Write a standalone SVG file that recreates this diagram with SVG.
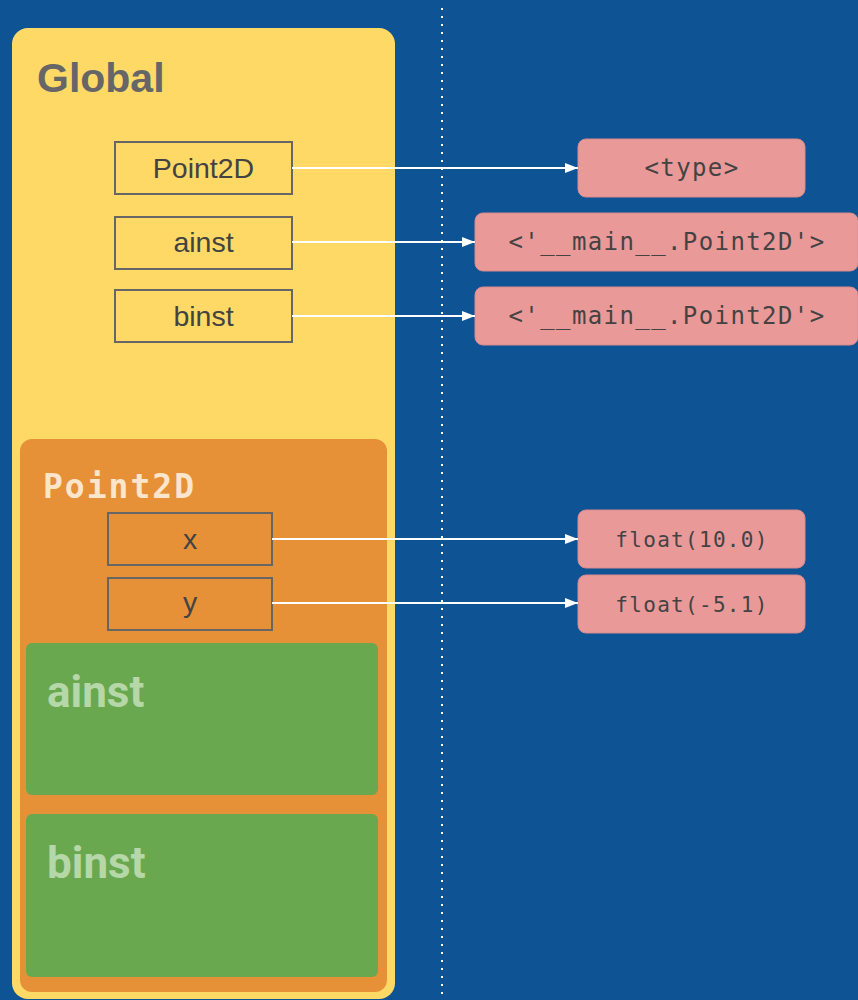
<svg xmlns="http://www.w3.org/2000/svg" width="858" height="1000" viewBox="0 0 858 1000">
<defs>
<marker id="arr" viewBox="0 0 13 10" refX="13" refY="5" markerWidth="13" markerHeight="10" markerUnits="userSpaceOnUse" orient="auto">
<path d="M0,0 L13,5 L0,10 z" fill="#ffffff"/>
</marker>
<style>
.var{fill:none;stroke:#666666;stroke-width:2}
.vt{font-family:"Liberation Sans",Arial,sans-serif;font-size:28.5px;fill:#434343;text-anchor:middle}
.obj{fill:#EA9999;stroke:#D88A8A;stroke-width:1}
.ot{font-family:"DejaVu Sans Mono","Liberation Mono",monospace;font-size:24px;letter-spacing:1.4px;fill:#434343;text-anchor:middle}
.of{font-family:"DejaVu Sans Mono","Liberation Mono",monospace;font-size:21px;letter-spacing:1.3px;fill:#434343;text-anchor:middle}
.con{stroke:#ffffff;stroke-width:2;fill:none}
</style>
</defs>
<rect x="0" y="0" width="858" height="1000" fill="#0E5394"/>
<line x1="442" y1="8" x2="442" y2="1000" stroke="#ffffff" stroke-width="2" stroke-dasharray="2 6"/>
<g id="global">
<rect x="12" y="28" width="383" height="971" rx="16" fill="#FFD966"/>
<text x="37" y="92" font-family="Liberation Sans,Arial,sans-serif" font-weight="bold" font-size="41" fill="#666666">Global</text>
</g>
<g id="g-point2d"><rect class="var" x="115" y="142" width="177" height="52"/><text class="vt" x="203.5" y="178">Point2D</text></g>
<g id="g-ainst"><rect class="var" x="115" y="217" width="177" height="52"/><text class="vt" x="203.5" y="252">ainst</text></g>
<g id="g-binst"><rect class="var" x="115" y="290" width="177" height="52"/><text class="vt" x="203.5" y="326">binst</text></g>
<g id="point2d-class">
<rect x="20" y="439" width="367" height="553" rx="12" fill="#E69138"/>
<text x="43" y="498" font-family="DejaVu Sans Mono,Liberation Mono,monospace" font-weight="bold" font-size="33" letter-spacing="2" fill="#FCE5CD">Point2D</text>
</g>
<g id="c-x"><rect class="var" x="108" y="513" width="164" height="52"/><text class="vt" x="190" y="549">x</text></g>
<g id="c-y"><rect class="var" x="108" y="578" width="164" height="52"/><text class="vt" x="190" y="612">y</text></g>
<g id="ainst-inst">
<rect x="26" y="643" width="352" height="152" rx="6" fill="#6AA84F"/>
<text x="47" y="707" font-family="Roboto,Liberation Sans,sans-serif" font-weight="bold" font-size="44" fill="#B6D7A8">ainst</text>
</g>
<g id="binst-inst">
<rect x="26" y="814" width="352" height="163" rx="6" fill="#6AA84F"/>
<text x="47" y="878" font-family="Roboto,Liberation Sans,sans-serif" font-weight="bold" font-size="44" fill="#B6D7A8">binst</text>
</g>
<g id="o-type"><rect class="obj" x="578" y="139" width="227" height="58" rx="8"/><text class="ot" x="692" y="176">&lt;type&gt;</text></g>
<g id="o-a"><rect class="obj" x="475" y="213" width="383" height="58" rx="8"/><text class="ot" x="667" y="250">&lt;'__main__.Point2D'&gt;</text></g>
<g id="o-b"><rect class="obj" x="475" y="287" width="383" height="58" rx="8"/><text class="ot" x="667" y="324">&lt;'__main__.Point2D'&gt;</text></g>
<g id="o-x"><rect class="obj" x="578" y="510" width="227" height="58" rx="8"/><text class="of" x="692" y="547">float(10.0)</text></g>
<g id="o-y"><rect class="obj" x="578" y="575" width="227" height="58" rx="8"/><text class="of" x="692" y="612">float(-5.1)</text></g>
<g id="connectors">
<line class="con" x1="292" y1="168" x2="578" y2="168" marker-end="url(#arr)"/>
<line class="con" x1="292" y1="242" x2="475" y2="242" marker-end="url(#arr)"/>
<line class="con" x1="292" y1="316" x2="475" y2="316" marker-end="url(#arr)"/>
<line class="con" x1="272" y1="539" x2="578" y2="539" marker-end="url(#arr)"/>
<line class="con" x1="272" y1="603" x2="578" y2="603" marker-end="url(#arr)"/>
</g>
</svg>
